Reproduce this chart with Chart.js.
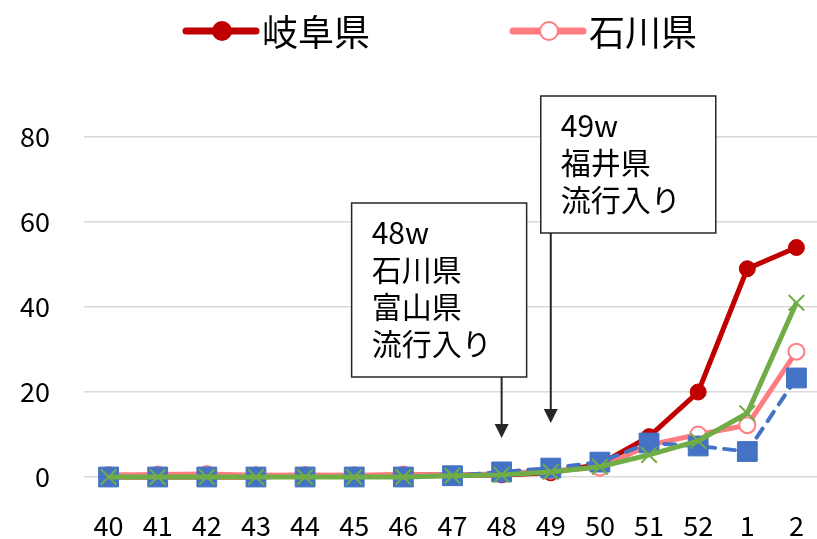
<!DOCTYPE html>
<html>
<head>
<meta charset="utf-8">
<script src="https://cdn.jsdelivr.net/npm/chart.js@4"></script>
<style>
  body { margin: 0; overflow: hidden; background: #fff; }
  #wrap { width: 817px; height: 539px; overflow: hidden; }
</style>
</head>
<body>
<div id="wrap"><canvas id="chart" width="840" height="539" style="width:840px;height:539px"></canvas></div>
<script>
const FONT = '"Noto Sans CJK JP", "Noto Sans", sans-serif';

const weeks = ['40', '41', '42', '43', '44', '45', '46', '47', '48', '49', '50', '51', '52', '1', '2'];
const gifu = [0, 0, 0, 0, 0.3, 0.3, 0.5, 0.5, 0.5, 1, 3, 9.5, 20, 49, 54];
const ishikawa = [0.5, 0.6, 0.7, 0.4, 0.5, 0.4, 0.6, 0.3, 0.8, 1.5, 2.2, 7.5, 10, 12.2, 29.5];
const toyama = [0, 0, 0, 0, 0, 0, 0, 0.3, 1.2, 2.1, 3.5, 8, 7.3, 6, 23.3];
const fukui = [0, 0, 0, 0, 0, 0, 0, 0.3, 0.5, 1.2, 2.4, 5.2, 8.5, 15, 41];
const yTicks = [0, 20, 40, 60, 80];

// annotation boxes: which week the arrow points at, and the text lines
const notes = [
    { week: '48', lines: ['48w', '石川県', '富山県', '流行入り'], left: -150, right: 25, top: 203, bottom: 377, tip: 438 },
    { week: '49', lines: ['49w', '福井県', '流行入り'], left: -10, right: 165, top: 96, bottom: 233, tip: 423 }
];

const legendItems = [
    { name: '岐阜県', color: '#C00000', fill: '#C00000', x: 186 },
    { name: '石川県', color: '#FF7C80', fill: '#FFFFFF', x: 513 }
];

const notesPlugin = {
    id: 'notes',
    afterDraw(chart) {
        const ctx = chart.ctx;
        const xs = chart.scales.x;
        ctx.save();
        notes.forEach(n => {
            const ax = xs.getPixelForValue(weeks.indexOf(n.week));
            const l = ax + n.left, r = ax + n.right;
            ctx.fillStyle = '#fff';
            ctx.fillRect(l, n.top, r - l, n.bottom - n.top);
            ctx.strokeStyle = '#262626';
            ctx.lineWidth = 1.5;
            ctx.strokeRect(l, n.top, r - l, n.bottom - n.top);
            ctx.fillStyle = '#000';
            ctx.font = '30px ' + FONT;
            ctx.textBaseline = 'middle';
            ctx.textAlign = 'left';
            n.lines.forEach((t, i) => ctx.fillText(t, l + 20, n.top + 30 + i * 37));
            // arrow
            ctx.strokeStyle = '#262626';
            ctx.lineWidth = 2;
            ctx.beginPath();
            ctx.moveTo(ax, n.bottom);
            ctx.lineTo(ax, n.tip - 12);
            ctx.stroke();
            ctx.fillStyle = '#262626';
            ctx.beginPath();
            ctx.moveTo(ax - 7, n.tip - 14);
            ctx.lineTo(ax + 7, n.tip - 14);
            ctx.lineTo(ax, n.tip);
            ctx.closePath();
            ctx.fill();
        });
        // legend
        const ly = 31;
        legendItems.forEach(it => {
            ctx.strokeStyle = it.color;
            ctx.lineWidth = 7;
            ctx.lineCap = 'round';
            ctx.beginPath();
            ctx.moveTo(it.x, ly);
            ctx.lineTo(it.x + 70, ly);
            ctx.stroke();
            ctx.beginPath();
            ctx.arc(it.x + 36, ly, 9, 0, Math.PI * 2);
            ctx.fillStyle = it.fill;
            ctx.fill();
            ctx.lineWidth = 2;
            ctx.stroke();
            ctx.fillStyle = '#000';
            ctx.font = '36px ' + FONT;
            ctx.textBaseline = 'middle';
            ctx.fillText(it.name, it.x + 76, ly + 1);
        });
        ctx.restore();
    }
};

new Chart(document.getElementById('chart'), {
    type: 'line',
    data: {
        labels: weeks,
        datasets: [
            { label: '岐阜県', data: gifu, borderColor: '#C00000', backgroundColor: '#C00000', borderWidth: 5,
              pointStyle: 'circle', pointRadius: 8, pointBorderWidth: 1, order: 4, clip: false },
            { label: '石川県', data: ishikawa, borderColor: '#FF7C80', backgroundColor: '#FFFFFF', borderWidth: 5,
              pointStyle: 'circle', pointRadius: 8, pointBorderWidth: 2, order: 3, clip: false },
            { label: '富山県', data: toyama, borderColor: '#4472C4', backgroundColor: '#4472C4', borderWidth: 4,
              borderDash: [11, 9], borderCapStyle: 'round',
              pointStyle: 'rect', pointRadius: 14, pointBorderWidth: 1, order: 2, clip: false },
            { label: '福井県', data: fukui, borderColor: '#70AD47', backgroundColor: '#70AD47', borderWidth: 5,
              pointStyle: 'crossRot', pointRadius: 11, pointBorderWidth: 2, order: 1, clip: false }
        ]
    },
    options: {
        responsive: false,
        animation: false,
        layout: { padding: { top: 137, right: 19, left: 0, bottom: 0 } },
        plugins: { legend: { display: false }, tooltip: { enabled: false } },
        scales: {
            x: {
                offset: true,
                grid: { display: false },
                border: { display: false },
                ticks: { color: '#000', font: { size: 27, family: FONT }, padding: 25, maxRotation: 0, autoSkip: false },
                afterFit: s => { s.height = 62; }
            },
            y: {
                min: 0,
                max: 80,
                grid: { color: '#D9D9D9', lineWidth: 1.5, drawTicks: false },
                border: { display: false },
                afterBuildTicks: s => { s.ticks = yTicks.map(v => ({ value: v })); },
                ticks: { color: '#000', font: { size: 27, family: FONT }, padding: 34 },
                afterFit: s => { s.width = 84; }
            }
        }
    },
    plugins: [notesPlugin]
});
</script>
</body>
</html>
